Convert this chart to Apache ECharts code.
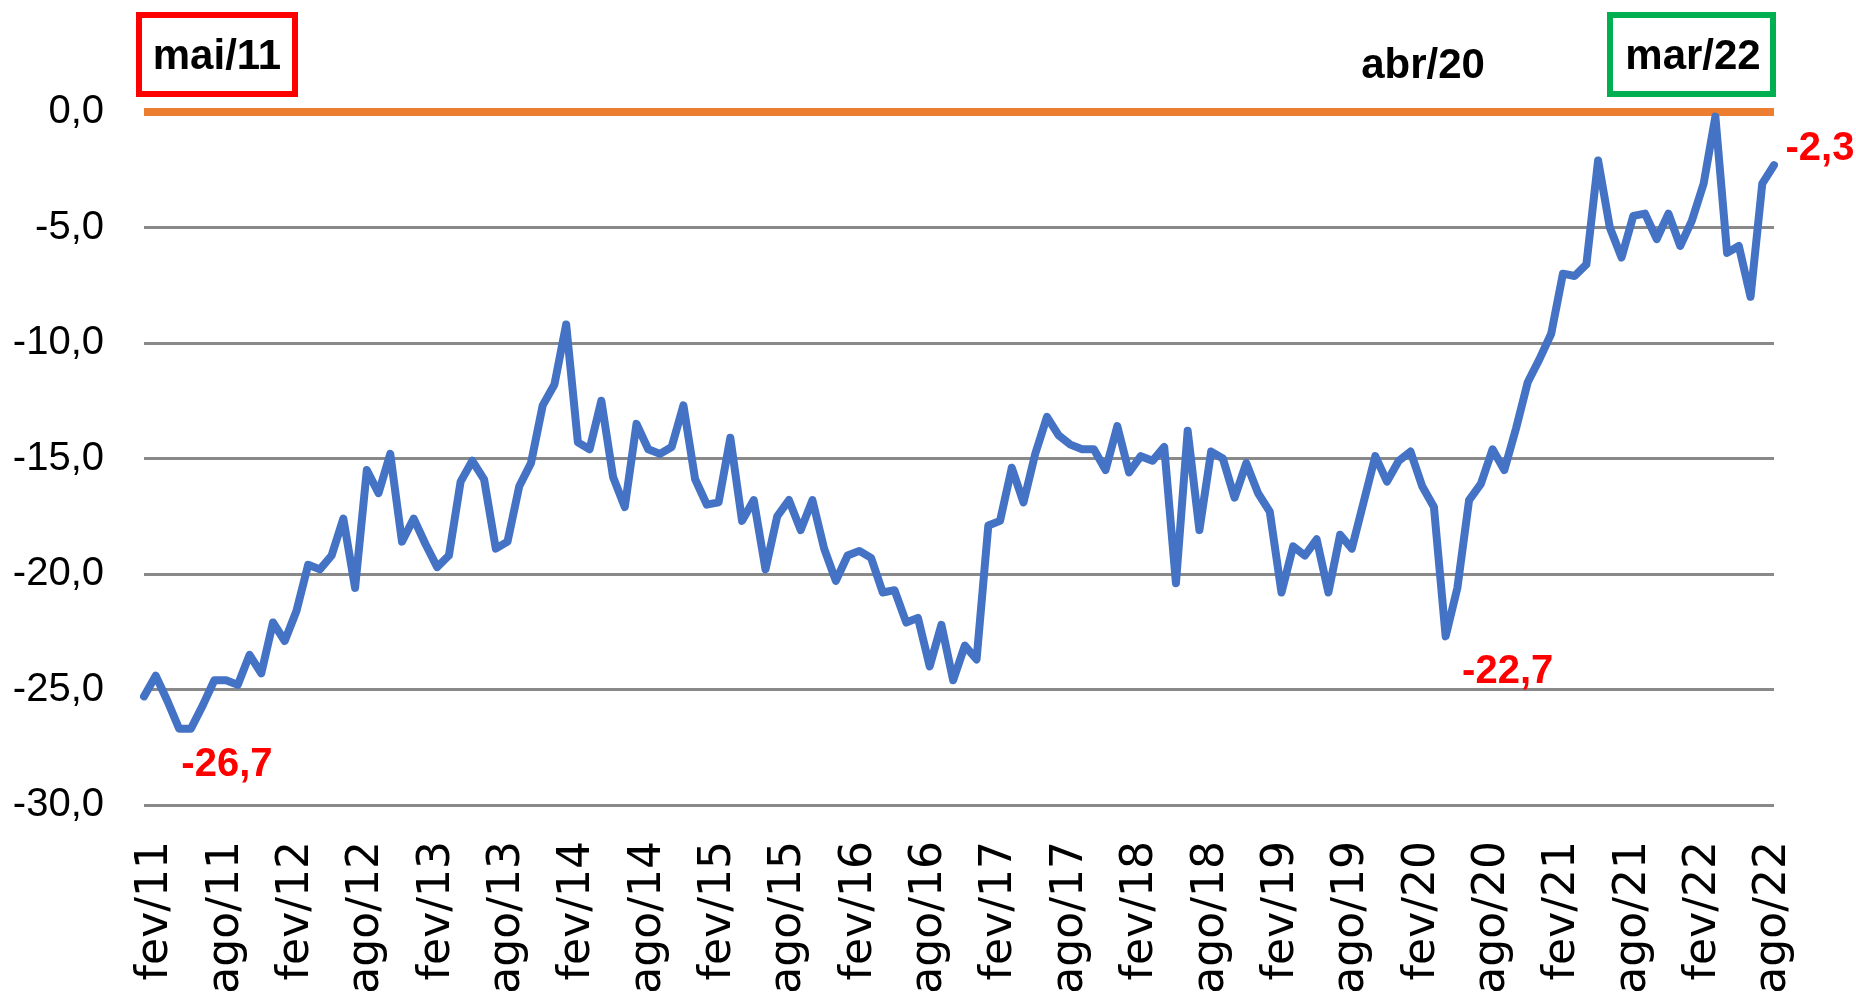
<!DOCTYPE html>
<html>
<head>
<meta charset="utf-8">
<script src="https://cdn.jsdelivr.net/npm/echarts@6/dist/echarts.min.js"></script>
<style>
  html, body { margin: 0; padding: 0; background: #ffffff; }
  #chart { width: 1856px; height: 1000px; }
</style>
</head>
<body>
<div id="chart"></div>
<script>
// ---- data ----
const monthNames = ['jan','fev','mar','abr','mai','jun','jul','ago','set','out','nov','dez'];
const years = ['11','12','13','14','15','16','17','18','19','20','21','22'];
const lastMonthIndex = 7; // ago/22

const values = [
  -25.3, -24.4, -25.5, -26.7, -26.7, -25.7, -24.6, -24.6, -24.8, -23.5, -24.3, -22.1, // 2011
  -22.9, -21.6, -19.6, -19.8, -19.2, -17.6, -20.6, -15.5, -16.5, -14.8, -18.6, -17.6, // 2012
  -18.7, -19.7, -19.2, -16.0, -15.1, -15.9, -18.9, -18.6, -16.2, -15.2, -12.7, -11.8, // 2013
  -9.2, -14.3, -14.6, -12.5, -15.8, -17.1, -13.5, -14.6, -14.8, -14.5, -12.7, -15.9,  // 2014
  -17.0, -16.9, -14.1, -17.7, -16.8, -19.8, -17.5, -16.8, -18.1, -16.8, -18.9, -20.3, // 2015
  -19.2, -19.0, -19.3, -20.8, -20.7, -22.1, -21.9, -24.0, -22.2, -24.6, -23.1, -23.7, // 2016
  -17.9, -17.7, -15.4, -16.9, -14.8, -13.2, -14.0, -14.4, -14.6, -14.6, -15.5, -13.6, // 2017
  -15.6, -14.9, -15.1, -14.5, -20.4, -13.8, -18.1, -14.7, -15.0, -16.7, -15.2, -16.5, // 2018
  -17.3, -20.8, -18.8, -19.2, -18.5, -20.8, -18.3, -18.9, -16.9, -14.9, -16.0, -15.1, // 2019
  -14.7, -16.2, -17.1, -22.7, -20.6, -16.8, -16.1, -14.6, -15.5, -13.7, -11.7, -10.7, // 2020
  -9.6, -7.0, -7.1, -6.6, -2.1, -5.0, -6.3, -4.5, -4.4, -5.5, -4.4, -5.8,            // 2021
  -4.7, -3.1, -0.2, -6.1, -5.8, -8.0, -3.1, -2.3                                      // 2022
];
const referenceValue = 0;
const yTicks = [0, -5, -10, -15, -20, -25, -30];
const labelledPoints = ['mai/11', 'abr/20', 'ago/22'];
const annotations = { left: 'mai/11', middle: 'abr/20', right: 'mar/22' };

// ---- build ----
const categories = [];
years.forEach((y, yi) => {
  monthNames.forEach((m, mi) => {
    if (yi === years.length - 1 && mi > lastMonthIndex) return;
    categories.push(m + '/' + y);
  });
});
const refLine = categories.map(() => referenceValue);
const fmt = v => v.toFixed(1).replace('.', ',');

const labelOffsets = { 'mai/11': [36, 36], 'abr/20': [62, 36], 'ago/22': [46, -16] };
const blueData = values.map((v, i) => {
  const c = categories[i];
  if (labelledPoints.indexOf(c) >= 0) {
    return {
      value: v,
      symbol: 'circle',
      symbolSize: 2,
      itemStyle: { color: 'rgba(0,0,0,0)', borderWidth: 0 },
      label: {
        show: true, position: 'inside', offset: labelOffsets[c],
        formatter: p => fmt(p.value),
        color: '#FF0000', fontSize: 40, fontWeight: 'bold',
        fontFamily: '"Liberation Sans", Arial, sans-serif'
      }
    };
  }
  return { value: v, symbol: 'none' };
});

const chart = echarts.init(document.getElementById('chart'));
const annFont = 'bold 42px "Liberation Sans", Arial, sans-serif';
chart.setOption({
  animation: false,
  backgroundColor: '#ffffff',
  grid: { left: 144, right: 82, top: 112, bottom: 195 },
  xAxis: {
    type: 'category',
    data: categories,
    boundaryGap: false,
    axisLine: { show: false },
    axisTick: { show: false },
    splitLine: { show: false },
    axisLabel: {
      interval: (idx) => idx % 6 === 1,
      rotate: 90,
      margin: 36,
      color: '#000000',
      fontSize: 44,
      fontFamily: '"DejaVu Sans", sans-serif'
    }
  },
  yAxis: {
    type: 'value',
    min: yTicks[yTicks.length - 1],
    max: yTicks[0],
    interval: 5,
    axisLine: { show: false },
    axisTick: { show: false },
    splitLine: { lineStyle: { color: '#898989', width: 3 } },
    axisLabel: {
      margin: 40,
      color: '#000000',
      fontSize: 40,
      fontFamily: '"Liberation Sans", Arial, sans-serif',
      formatter: v => fmt(v)
    }
  },
  series: [
    {
      type: 'line',
      data: refLine,
      symbol: 'none',
      z: 2,
      lineStyle: { color: '#ED7D31', width: 8 }
    },
    {
      type: 'line',
      data: blueData,
      showSymbol: true,
      showAllSymbol: true,
      z: 3,
      lineStyle: { color: '#4472C4', width: 8, cap: 'round', join: 'round' }
    }
  ],
  graphic: [
    { type: 'rect', z: 10, shape: { x: 139, y: 15, width: 156, height: 79 },
      style: { fill: '#ffffff', stroke: '#FF0000', lineWidth: 6 } },
    { type: 'text', z: 11, x: 217, y: 57,
      style: { text: annotations.left, font: annFont, fill: '#000000', align: 'center', verticalAlign: 'middle' } },
    { type: 'text', z: 11, x: 1423, y: 66,
      style: { text: annotations.middle, font: annFont, fill: '#000000', align: 'center', verticalAlign: 'middle' } },
    { type: 'rect', z: 10, shape: { x: 1610, y: 15, width: 163, height: 79 },
      style: { fill: '#ffffff', stroke: '#00B050', lineWidth: 6 } },
    { type: 'text', z: 11, x: 1693, y: 57,
      style: { text: annotations.right, font: annFont, fill: '#000000', align: 'center', verticalAlign: 'middle' } }
  ]
});
</script>
</body>
</html>
